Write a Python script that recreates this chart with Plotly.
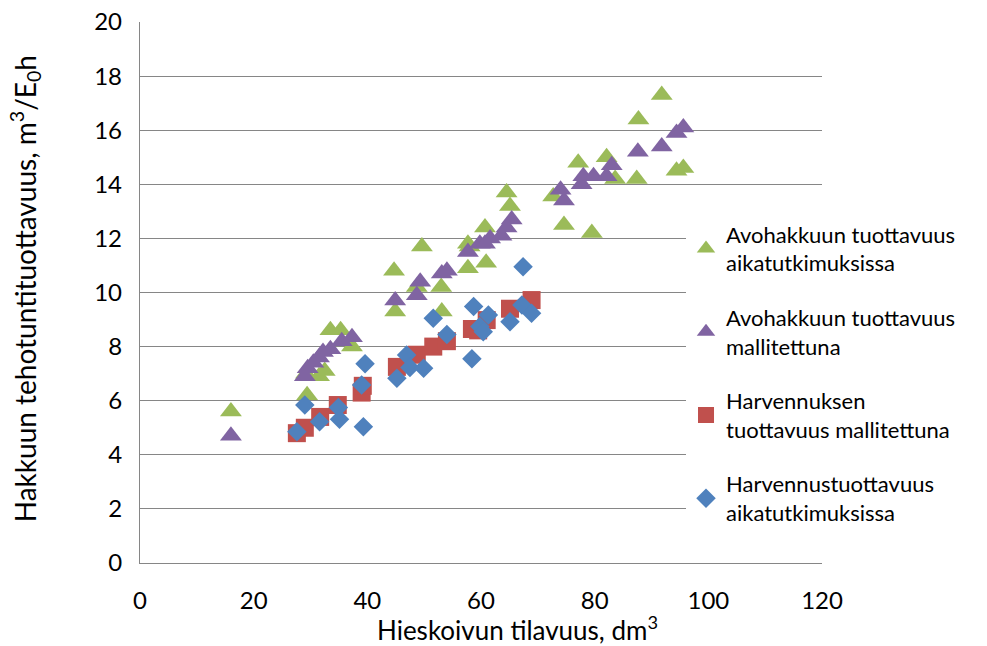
import plotly.graph_objects as go

# Avohakkuun tuottavuus aikatutkimuksissa (green triangles)
avo_aika_x = [16.0, 29.2, 29.4, 31.5, 32.5, 33.5, 35.3, 37.3,
              44.7, 44.9, 48.7, 49.6, 53.0, 53.1, 57.7, 57.7, 58.0, 60.9, 60.7, 64.5, 65.1,
              72.7, 74.6, 77.1, 79.5, 82.1, 83.6, 87.4, 87.7, 91.8, 94.4, 95.6]
avo_aika_y = [5.6, 7.0, 6.2, 6.9, 7.1, 8.6, 8.6, 8.0,
              10.8, 9.3, 10.2, 11.7, 10.2, 9.3, 11.8, 10.9, 11.7, 11.1, 12.4, 13.7, 13.2,
              13.55, 12.5, 14.8, 12.2, 15.0, 14.2, 14.2, 16.4, 17.3, 14.5, 14.6]

# Avohakkuun tuottavuus mallitettuna (purple triangles)
avo_malli_x = [16.0, 29.0, 29.5, 30.5, 31.5, 32.2, 33.5, 35.5, 37.3,
               44.9, 48.7, 49.3, 53.1, 54.0, 57.7, 59.8, 60.7, 61.6, 63.6, 64.5, 65.4,
               74.0, 74.6, 77.7, 78.0, 79.8, 82.1, 83.0, 87.6, 91.8, 94.4, 95.6]
avo_malli_y = [4.7, 6.9, 7.2, 7.4, 7.6, 7.8, 7.9, 8.2, 8.35,
               9.7, 9.9, 10.4, 10.7, 10.8, 11.5, 11.8, 11.8, 12.0, 12.1, 12.4, 12.7,
               13.8, 13.4, 14.0, 14.3, 14.3, 14.3, 14.7, 15.2, 15.4, 15.9, 16.1]

# Harvennuksen tuottavuus mallitettuna (red squares)
harv_malli_x = [27.6, 29.0, 31.7, 34.8, 39.0, 39.2, 45.2, 48.7, 51.6, 54.0, 58.4, 59.5, 61.0, 65.1, 68.9]
harv_malli_y = [4.8, 5.0, 5.4, 5.84, 6.3, 6.55, 7.25, 7.7, 8.0, 8.2, 8.65, 8.6, 8.98, 9.4, 9.72]

# Harvennustuottavuus aikatutkimuksissa (blue diamonds)
harv_aika_x = [27.6, 29.0, 31.6, 34.9, 35.1, 39.3, 39.0, 39.6, 45.2, 46.9, 47.5, 49.9,
               51.6, 54.0, 58.4, 58.7, 59.8, 60.4, 61.3, 65.1, 67.2, 67.4, 68.9]
harv_aika_y = [4.85, 5.84, 5.22, 5.75, 5.31, 5.04, 6.58, 7.37, 6.83, 7.69, 7.23, 7.2,
               9.05, 8.45, 7.55, 9.48, 8.74, 8.55, 9.17, 8.92, 9.54, 10.95, 9.23]

x_ticks = [0, 20, 40, 60, 80, 100, 120]
y_ticks = [0, 2, 4, 6, 8, 10, 12, 14, 16, 18, 20]

names = ["Avohakkuun tuottavuus<br>aikatutkimuksissa",
         "Avohakkuun tuottavuus<br>mallitettuna",
         "Harvennuksen<br>tuottavuus mallitettuna",
         "Harvennustuottavuus<br>aikatutkimuksissa"]

x_title = "Hieskoivun tilavuus, dm<sup>3</sup>"
y_title = "Hakkuun tehotuntituottavuus, m<sup>3</sup>/E<sub>0</sub>h"

fig = go.Figure()
series = [
    (avo_aika_x, avo_aika_y, "triangle-up", 19, "#9BBB59"),
    (avo_malli_x, avo_malli_y, "triangle-up", 19, "#8064A2"),
    (harv_malli_x, harv_malli_y, "square", 18, "#C0504D"),
    (harv_aika_x, harv_aika_y, "diamond", 15, "#4F81BD"),
]
for i, (xs, ys, sym, sz, col) in enumerate(series):
    fig.add_trace(go.Scatter(
        x=xs, y=ys, mode="markers", name=names[i], legendgroup=f"g{i}",
        marker=dict(symbol=sym, size=sz, color=col, line=dict(width=0)),
    ))

font = "Lato, Calibri, Carlito, sans-serif"
fig.update_layout(
    width=987, height=646,
    margin=dict(l=140, r=165, t=22, b=83),
    paper_bgcolor="white", plot_bgcolor="white",
    font=dict(family=font, size=22, color="black"),
    showlegend=True,
    legend=dict(
        x=0.8006, y=0.646, xanchor="left", yanchor="top",
        bgcolor="white", borderwidth=0,
        font=dict(family=font, size=22, color="black"),
        traceorder="grouped", tracegroupgap=23,
        itemwidth=30,
    ),
    xaxis=dict(
        range=[0, 120], tickvals=x_ticks, ticktext=[str(v) for v in x_ticks],
        showgrid=False, zeroline=False, automargin=False,
        showline=True, linecolor="#868686", linewidth=1.3,
        ticks="", tickfont=dict(size=24), ticklabelstandoff=16,
    ),
    yaxis=dict(
        range=[0, 20], tickvals=y_ticks, ticktext=[str(v) for v in y_ticks],
        showgrid=True, gridcolor="#868686", gridwidth=1.3,
        zeroline=False, automargin=False,
        showline=True, linecolor="#868686", linewidth=1.3,
        ticks="", tickfont=dict(size=24), ticklabelstandoff=12,
    ),
    annotations=[
        dict(text=x_title, xref="paper", yref="paper", x=0.553, y=-0.121,
             xanchor="center", yanchor="middle", showarrow=False,
             font=dict(family=font, size=26, color="black")),
        dict(text=y_title, xref="paper", yref="paper", x=-0.1686, y=0.506,
             xanchor="center", yanchor="middle", showarrow=False, textangle=-90,
             font=dict(family=font, size=28, color="black")),
    ],
)

fig.write_html("out.html")
